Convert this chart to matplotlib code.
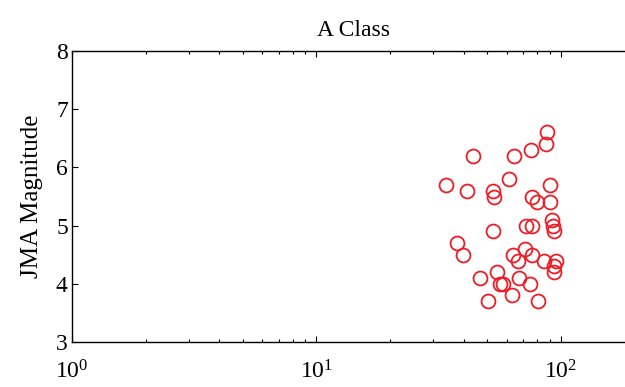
import numpy as np
import matplotlib
matplotlib.use("Agg")
import matplotlib.pyplot as plt

plt.rcParams['font.family'] = ['Liberation Serif', 'DejaVu Serif']
plt.rcParams['mathtext.fontset'] = 'stix'

# distance (x, log scale) and JMA magnitude (y) for A class events
distance = [87.7, 86.8, 75.3, 64.0, 43.5, 61.2, 90.2, 33.8, 41.2, 52.6,
            53.1, 76.5, 80.2, 90.2, 91.9, 92.5, 93.6, 71.9, 76.1, 52.5,
            37.7, 39.6, 63.6, 66.5, 71.4, 76.5, 85.4, 95.4, 94.0, 94.0,
            46.6, 55.0, 56.2, 58.0, 67.1, 74.6, 50.4, 63.0, 80.7]
magnitude = [6.6, 6.4, 6.3, 6.2, 6.2, 5.8, 5.7, 5.7, 5.6, 5.6,
             5.5, 5.5, 5.4, 5.4, 5.1, 5.0, 4.9, 5.0, 5.0, 4.9,
             4.7, 4.5, 4.5, 4.4, 4.6, 4.5, 4.4, 4.4, 4.3, 4.2,
             4.1, 4.2, 4.0, 4.0, 4.1, 4.0, 3.7, 3.8, 3.7]

fig = plt.figure(figsize=(6.25, 3.87), dpi=100)
# right edge of the axes falls just outside the picture, as in the original
ax = fig.add_axes([72/625, 45/387, 0.9, 291/387])

ax.plot(distance, magnitude, 'o', mfc='none', mec='#ee1c25', ms=10, mew=1.3)

ax.set_xscale('log')
ax.set_xlim(1, 200)
ax.set_ylim(3, 8)
ax.set_yticks([3, 4, 5, 6, 7, 8])
ax.set_xticks([1, 10, 100])
ax.tick_params(which='both', direction='in', top=True, right=False,
               labelsize=17, width=0.8)
ax.tick_params(which='major', length=4)
ax.tick_params(which='minor', length=2)
ax.tick_params(axis='y', pad=3)
ax.tick_params(axis='x', pad=13)
ax.spines['right'].set_visible(False)
for s in ax.spines.values():
    s.set_linewidth(1.0)

ax.set_title('A Class', fontsize=17, pad=11)
ax.set_ylabel('JMA Magnitude', fontsize=18, labelpad=9)

fig.savefig('out.png', dpi=100)
